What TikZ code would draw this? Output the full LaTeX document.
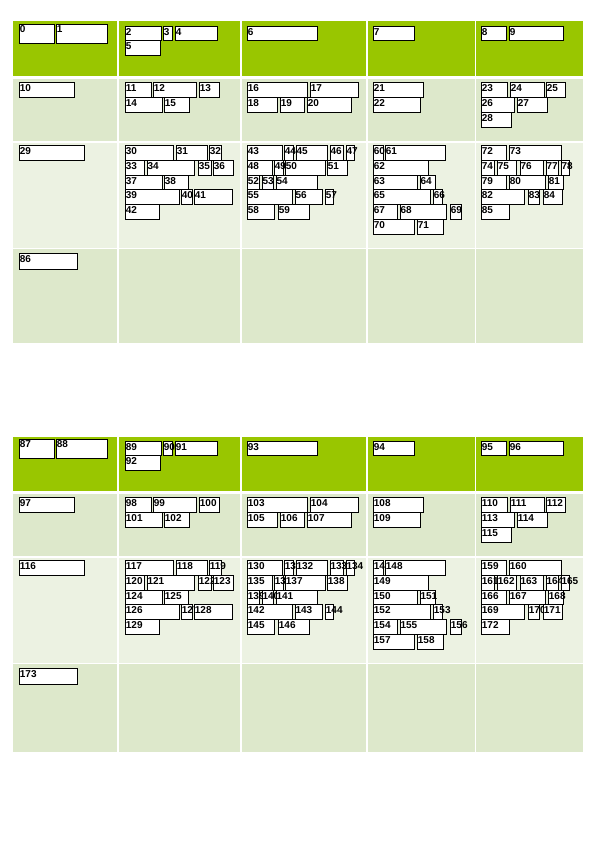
\documentclass[tikz,border=0pt]{standalone}
\usepackage{fontspec}
\newfontfamily\labfont{Liberation Sans}
\definecolor{hdr}{RGB}{153,198,0}
\definecolor{rowa}{RGB}{221,232,203}
\definecolor{rowb}{RGB}{236,242,226}
\tikzset{
  cell/.style={draw=black, fill=white, line width=0.9pt, inner sep=0pt, anchor=north west},
  lab/.style={anchor=north west, inner sep=0pt, xshift=0.4pt, yshift=-1.8pt,
              font={\labfont\bfseries\fontsize{10pt}{10pt}\selectfont}},
  bgc/.style={draw=none}
}
\newcommand\B[5]{%
  \pgfmathtruncatemacro\nn{#1+\no}%
  \pgfmathsetmacro\yy{#4+\yo}%
  \node[cell, minimum width={(#3-#2)*1pt}, minimum height={(#5-#4)*1pt},
        label={[lab]north west:\nn}] (b\nn) at (#2,\yy) {};%
}
\newcommand\Lev[1]{\ifcase#1\or145.3\or160.3\or175.3\or189.3\or204.3\or219.3\or234.3\fi}
\newcommand\R[4]{\B{#1}{#2}{#3}{\Lev{#4}}{\Lev{\numexpr#4+1\relax}}}
\newcommand\gridtable{%
  \foreach \xa/\xb in {12.7/117.3,118.5/240.2,241.5/366.3,367.5/474.5,475.5/582.8}{
    \fill[hdr,bgc]  (\xa,21.5+\yo) rectangle (\xb,75.8+\yo);
    \fill[rowa,bgc] (\xa,78.6+\yo) rectangle (\xb,140.8+\yo);
    \fill[rowb,bgc] (\xa,143.3+\yo) rectangle (\xb,247.6+\yo);
    \fill[rowa,bgc] (\xa,249.4+\yo) rectangle (\xb,\rb);
  }
  % header row
  \B{0}{19.3}{53.7}{24}{43.3}
  \B{1}{56.3}{106.7}{24}{43.3}
  \B{2}{125.3}{160.7}{26.3}{40.3}
  \B{3}{163.3}{171.7}{26.3}{40.3}
  \B{4}{175.3}{216.7}{26.3}{40.3}
  \B{5}{125.3}{159.7}{40.3}{55.3}
  \B{6}{247.3}{316.7}{26.3}{40.3}
  \B{7}{373.3}{414.3}{26.3}{40.3}
  \B{8}{481.3}{505.7}{26.3}{40.3}
  \B{9}{509.3}{563.3}{26.3}{40.3}
  % second row
  \B{10}{19.3}{74.3}{82.3}{97.3}
  \B{11}{125.3}{150.7}{82.3}{97.3}
  \B{12}{153.3}{195.7}{82.3}{97.3}
  \B{13}{199.3}{218.7}{82.3}{97.3}
  \B{14}{125.3}{161.7}{97.3}{112.3}
  \B{15}{164.3}{188.7}{97.3}{112.3}
  \B{16}{247.3}{306.7}{82.3}{97.3}
  \B{17}{310.3}{358.3}{82.3}{97.3}
  \B{18}{247.3}{276.7}{97.3}{112.3}
  \B{19}{280.3}{304.3}{97.3}{112.3}
  \B{20}{307.3}{351.3}{97.3}{112.3}
  \B{21}{373.3}{423.3}{82.3}{97.3}
  \B{22}{373.3}{420.3}{97.3}{112.3}
  \B{23}{481.3}{506.7}{82.3}{97.3}
  \B{24}{510.3}{543.7}{82.3}{97.3}
  \B{25}{546.3}{565.3}{82.3}{97.3}
  \B{26}{481.3}{514.3}{97.3}{112.3}
  \B{27}{517.3}{547.3}{97.3}{112.3}
  \B{28}{481.3}{511.3}{112.3}{127}
  % third row
  \R{29}{19.3}{84.3}{1}
  \R{30}{125.3}{173.3}{1}
  \R{31}{176.3}{206.7}{1}
  \R{32}{209.3}{221.3}{1}
  \R{33}{125.3}{144.3}{2}
  \R{34}{147}{194.3}{2}
  \R{35}{198.3}{210.7}{2}
  \R{36}{213.3}{233.3}{2}
  \R{37}{125.3}{161.7}{3}
  \R{38}{164.3}{188.3}{3}
  \R{39}{125.3}{178.7}{4}
  \R{40}{181.3}{191.7}{4}
  \R{41}{194.3}{232.3}{4}
  \R{42}{125.3}{158.7}{5}
  \R{43}{247.3}{281.7}{1}
  \R{44}{284.3}{292.7}{1}
  \R{45}{296}{327.3}{1}
  \R{46}{330}{343.3}{1}
  \R{47}{346}{354.3}{1}
  \R{48}{247.3}{271.7}{2}
  \R{49}{274.3}{282.7}{2}
  \R{50}{285.3}{324.7}{2}
  \R{51}{327.3}{346.7}{2}
  \R{52}{247.3}{259.3}{3}
  \R{53}{262}{273.3}{3}
  \R{54}{276}{317.3}{3}
  \R{55}{247.3}{292.3}{4}
  \R{56}{295}{322.3}{4}
  \R{57}{325.3}{333.3}{4}
  \R{58}{247.3}{274.3}{5}
  \R{59}{278.3}{309.3}{5}
  \R{60}{373.3}{382.7}{1}
  \R{61}{385.3}{445.3}{1}
  \R{62}{373.3}{428.3}{2}
  \R{63}{373.3}{417.3}{3}
  \R{64}{420}{435.3}{3}
  \R{65}{373.3}{430.3}{4}
  \R{66}{433.3}{442.3}{4}
  \R{67}{373.3}{397}{5}
  \R{68}{400}{446.3}{5}
  \R{69}{450.3}{461.3}{5}
  \R{70}{373.3}{414.3}{6}
  \R{71}{417.3}{443.3}{6}
  \R{72}{481.3}{505.7}{1}
  \R{73}{509.3}{561.3}{1}
  \R{74}{481.3}{494.3}{2}
  \R{75}{497.3}{516.3}{2}
  \R{76}{520}{543.3}{2}
  \R{77}{546}{558.3}{2}
  \R{78}{561}{569.3}{2}
  \R{79}{481.3}{505.7}{3}
  \R{80}{509.3}{545.3}{3}
  \R{81}{548.3}{563.3}{3}
  \R{82}{481.3}{524.3}{4}
  \R{83}{528.3}{539.3}{4}
  \R{84}{543.3}{562.3}{4}
  \R{85}{481.3}{509.3}{5}
  % fourth row
  \B{86}{19.3}{77}{253.3}{269}
}
\begin{document}
\begin{tikzpicture}[x=1pt,y=-1pt]
\useasboundingbox (0,0) rectangle (596,842);
\def\yo{0}\def\no{0}\def\rb{343}
\gridtable
\def\yo{415}\def\no{87}\def\rb{752}
\gridtable
\end{tikzpicture}
\end{document}
